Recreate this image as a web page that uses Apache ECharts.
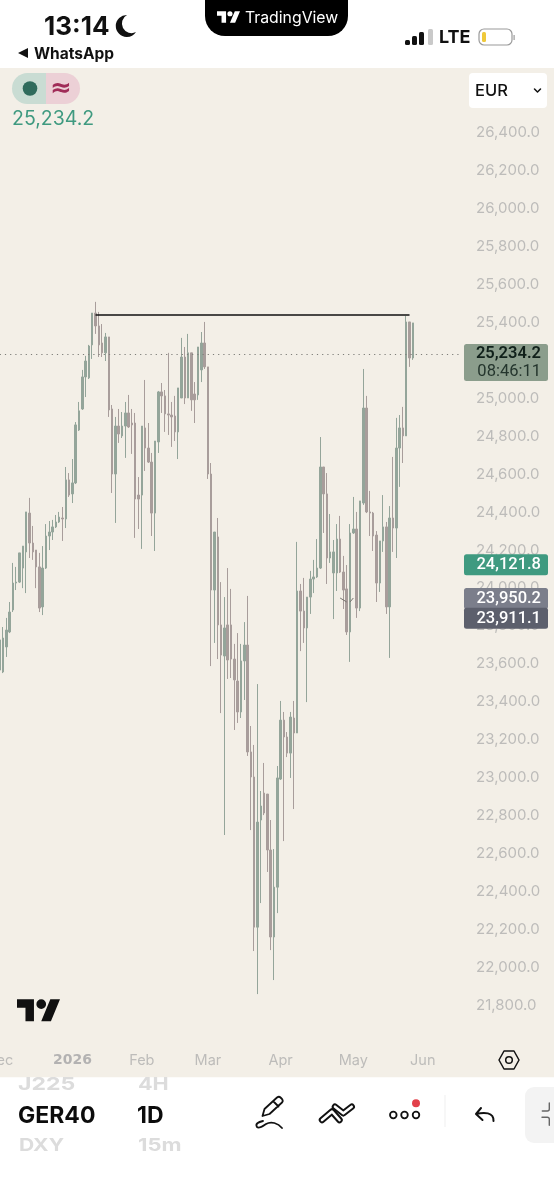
<!DOCTYPE html>
<html><head><meta charset="utf-8">
<style>html,body{margin:0;padding:0;background:#fff;overflow:hidden}#c{width:554px;height:1200px}</style>
<script src="https://cdn.jsdelivr.net/npm/echarts@6/dist/echarts.min.js"></script>
</head><body><div id="c"></div>
<script>
const opens=[23567,23557,23689,23768,23884,24026,24031,24105,24190,24395,24237,24200,24111,23900,24105,24274,24295,24322,24348,24369,24364,24570,24496,24554,24833,24944,25113,25108,25282,25450,25382,25292,25240,25324,24944,24601,24854,24802,24854,24923,24870,24870,24490,24490,24844,24738,24664,24395,24770,25034,25013,24918,24912,24907,24823,25002,25218,25002,25240,25023,25018,25150,25292,25166,24601,23989,24269,23805,23641,23805,23805,23625,23509,23346,23615,23699,23135,23003,22211,22776,22918,22913,22618,22159,22422,22992,23303,23214,23129,23314,23235,23984,23878,23789,23952,24047,24058,24105,24638,24496,24158,24079,24079,24258,24084,23995,23768,24290,24311,23894,24448,24949,24401,24395,24279,24026,24248,24322,23900,24369,24316,24738,24844,24802,25403,25213];
const closes=[23726,23736,23778,23873,24026,24031,24185,24221,24401,24237,24190,24111,23894,24105,24274,24295,24322,24348,24374,24364,24570,24490,24554,24860,24934,25113,25197,25276,25450,25382,25282,25240,25324,24939,24601,24854,24812,24854,24923,24849,24860,24469,24469,24854,24738,24664,24395,24775,25034,25013,24918,24912,24902,24823,25055,25218,25002,25240,24992,24992,25271,25292,25166,24601,23989,24295,23805,23646,23789,23620,23625,23515,23346,23615,23699,23135,23003,22211,22765,22850,22813,22618,22159,22422,22998,23303,23214,23129,23319,23235,23984,23878,23789,23952,24047,24058,24105,24638,24496,24158,24190,24190,24258,24084,23989,23768,24290,24311,23894,24459,24949,24401,24395,24274,24026,24248,24322,23900,24369,24316,24738,24844,24802,25403,25213,25398];
const lows=[23546,23551,23636,23762,23873,23989,24026,23999,23973,24158,24148,23999,23873,23857,24100,24200,24253,24316,24343,24248,24316,24480,24448,24548,24828,24939,25007,25102,25208,25340,25218,25218,25197,24902,24501,24343,24765,24791,24686,24844,24707,24264,24311,24206,24617,24659,24274,24195,24712,24923,24823,24807,24744,24775,24680,25002,24970,25002,24934,24870,24992,25086,25155,24575,23588,23710,23625,23340,22697,23520,23525,23251,23288,23314,23409,23114,22723,22085,21858,22338,22802,22502,22090,21932,22285,22987,22665,23108,22998,22834,23235,23667,23710,23398,23863,23973,24053,24100,24290,24021,24132,23836,23984,24079,23889,23752,23610,24285,23842,23878,24438,24395,24274,24195,23926,23979,24190,23863,23631,24190,24158,24533,24659,24802,25166,25203];
const highs=[23836,23794,23842,23926,24132,24111,24185,24221,24401,24475,24327,24200,24185,24221,24337,24353,24359,24385,24401,24427,24638,24606,24680,24875,24981,25150,25224,25282,25450,25509,25456,25392,25345,25324,24965,24902,24944,24928,24981,25018,24944,24923,24585,24854,25097,24870,24712,24775,25039,25081,25044,25240,24981,25013,25055,25319,25271,25340,25240,25086,25271,25350,25403,25166,24659,24295,24369,24031,23952,24105,23995,23705,23762,23705,23820,23958,23272,23172,23493,22929,23077,22913,22776,22623,23061,23404,23346,23240,23346,23404,24243,24021,24053,23952,24090,24148,24258,24796,24638,24606,24390,24253,24337,24380,24169,24121,24337,24480,24401,24459,25155,25013,24512,24401,24300,24248,24490,24348,24432,24691,24897,24912,24955,25435,25403,25398];
const monthLabels={0:'Dec',22:'2026',43:'Feb',63:'Mar',85:'Apr',107:'May',128:'Jun'};
const slotCount=141;
const lastPrice=25234.2;
const resistance=25440;
const priceTags=[
 {value:25234.2,text:'25,234.2',sub:'08:46:11',bg:'#8b9d8c',fg:'#10201a',sub2:'#24352d',h:37,dy:8.5},
 {value:24121.8,text:'24,121.8',bg:'#3f9a80',fg:'#ffffff',h:21,dy:0},
 {value:23950.2,text:'23,950.2',bg:'#7b7e8b',fg:'#ffffff',h:21,dy:1},
 {value:23911.1,text:'23,911.1',bg:'#5c5f6c',fg:'#ffffff',h:21,dy:13.5}
];
const UP='#94a59a', DOWN='#a89d9b';
const step=3.305;
const categories=Array.from({length:slotCount},(_,i)=>String(i));
const candles=opens.map((o,i)=>[o,closes[i],lows[i],highs[i]]);

const chart=echarts.init(document.getElementById('c'),null,{width:554,height:1200});
const FONT='Inter, "Open Sans", sans-serif';
const TV='M14 22H7V11H0V4h14v18zM28 22h-8l7.5-18h8L28 22zM24 8a4 4 0 1 1-8 0a4 4 0 1 1 8 0z';
const P=(d,x,y,w,h,fill)=>({type:'path',shape:{pathData:d,x,y,width:w,height:h,layout:'center'},style:{fill}});
const S=(d,st='#111',lw=2)=>({type:'path',shape:{pathData:d},style:{fill:'none',stroke:st,lineWidth:lw,lineCap:'round',lineJoin:'round'}});
const iconPaths=[
 P(TV,217,11,23,12,'#ffffff'),
 {type:'path',shape:{pathData:'M127 15a11 11 0 1 0 9 17a9.5 9.5 0 0 1-9-17z'},style:{fill:'#111'}},
 S('M534.5 89l3 3l3 -3','#111',1.5),
 P(TV,17,999,43,22.5,'#111'),
 S('M499 1060l5-9h10l5 9l-5 9h-10z','#111',1.5),
 S('M262.5 1116l2-7l12.5-11.5q2-1.5 3.5 0l1.5 1.5q1.5 2 0 3.5l-12.5 11.5zM273.5 1101.5l5 5','#111',1.8),
 S('M263 1121c-5 1-8 3-6 6c2 2 6-1 9-3c5-3 12-1 16 4','#111',1.8),
 S('M322 1120l10-8.5l7.5 8.5','#111',6.5),S('M322 1120l10-8.5l7.5 8.5','#ffffff',2.6),
 S('M335 1106.7l8.3 6.6l8.4-6.6','#111',6.5),S('M335 1106.7l8.3 6.6l8.4-6.6','#ffffff',2.6),
 S('M481 1108l-5 6l6.5 6M476 1114c8-2 18-2 17.5 7','#111',2),
 S('M549.3 1103v6q0 2-2 2h-5M542 1117.3h5.3q2 0 2 2v6','#666',1.4)
];
chart.setOption({
 animation:false,
 backgroundColor:'transparent',
 grid:{left:-1.95,top:95,width:step*slotCount,height:948,containLabel:false,outerBoundsMode:'none'},
 xAxis:{type:'category',data:categories,boundaryGap:true,
  axisLine:{show:false},axisTick:{show:false},splitLine:{show:false},
  axisLabel:{margin:10,hideOverlap:false,showMinLabel:true,color:'#bdbcba',fontSize:14.5,fontFamily:FONT,
   interval:(i)=>monthLabels[i]!==undefined,
   formatter:(v)=>monthLabels[v]==='2026'?'{b|2026}':monthLabels[v],
   rich:{b:{fontWeight:700,fontSize:14,color:'#b3b2b2',fontFamily:'"DejaVu Sans"'}}}},
 yAxis:{type:'value',position:'right',min:21600,max:26600,interval:200,
  axisLine:{show:false},axisTick:{show:false},splitLine:{show:false},
  axisLabel:{margin:12,align:'left',color:'#bdbcba',fontSize:15,fontFamily:FONT,
   formatter:(v)=>(v<21800||v>26400)?'':v.toLocaleString('en-US',{minimumFractionDigits:1,maximumFractionDigits:1})}},
 series:[{type:'candlestick',data:candles,barWidth:2,clip:true,
  itemStyle:{color:UP,color0:DOWN,borderColor:UP,borderColor0:DOWN,borderWidth:1},
  markLine:{silent:true,symbol:'none',animation:false,label:{show:false},
   data:[
    [{coord:[29,resistance],lineStyle:{color:'#111',width:1.6,type:'solid'}},{coord:[124,resistance]}],
    [{coord:[0,lastPrice],lineStyle:{color:'#7d7d78',width:1.2,type:[1.2,4]}},{coord:[140,lastPrice]}],
    [{coord:[103,23947],lineStyle:{color:'#77736f',width:1,type:'solid'}},{coord:[105,23926]}],
    [{coord:[106,23926],lineStyle:{color:'#77736f',width:1,type:'solid'}},{coord:[107,23947]}]
   ]}
 },{type:'custom',coordinateSystem:'none',silent:true,z:300,clip:false,data:[[0]],
   renderItem:()=>({type:'group',children:iconPaths})}]
});

const T=(x,y,text,font,fill,align='left',z=110)=>({type:'text',z,style:{x,y,text,font,fill,textAlign:align,textVerticalAlign:'middle'}});
const W=(x,y,text,sx)=>({type:'text',z:99,x,y,scaleX:sx,style:{x:0,y:0,text,font:fnt(700,18),fill:'#dcdcdc',textAlign:'left',textVerticalAlign:'middle'}});
const R=(x,y,w,h,fill,r=0,z=100)=>({type:'rect',z,shape:{x,y,width:w,height:h,r},style:{fill}});
const fnt=(w,s,fam)=>`${w} ${s}px ${fam||'Inter, "Open Sans", sans-serif'}`;
const C=(cx,cy,r,lw=1.8)=>({type:'circle',z:110,shape:{cx,cy,r},style:{fill:'none',stroke:'#111',lineWidth:lw}});

const els=[
 R(0,68,554,1009.5,'#f3efe7',0,-10),
 R(0,0,554,68,'#ffffff'),
 R(205,-20,143,56,'#000000',20),
 T(245,18,'TradingView',fnt(400,15.8),'#ffffff'),
 T(44,27,'13:14',fnt(700,26),'#111'),
 {type:'polygon',z:110,shape:{points:[[18,53],[28,48],[28,58]]},style:{fill:'#111'}},
 T(34,54,'WhatsApp',fnt(700,15.5),'#111'),
 R(405,40,5,5,'#111',1.5),R(412,36,5,9,'#111',1.5),R(419,32,5,13,'#111',1.5),R(428,29,5,16,'#c9c9c9',1.5),
 T(439,38,'LTE',fnt(700,18),'#111'),
 R(479,29,33,16,'#ffffff',5),
 {type:'rect',z:110,shape:{x:479,y:29,width:33,height:16,r:5},style:{fill:'none',stroke:'#9a9a9a',lineWidth:1.2}},
 R(482,32,4,10,'#efc93b',1.5,111),
 R(513.5,35,1.2,5,'#9a9a9a',0,110),
 {type:'rect',z:100,shape:{x:12,y:73,width:34,height:31,r:[15.5,0,0,15.5]},style:{fill:'#c9dcd3'}},
 {type:'rect',z:100,shape:{x:46,y:73,width:34,height:31,r:[0,15.5,15.5,0]},style:{fill:'#ecd0d6'}},
 {type:'circle',z:110,shape:{cx:30,cy:88.5,r:7.3},style:{fill:'#2f6b5c'}},
 T(61,89,'≈',fnt(700,26,'"DejaVu Sans"'),'#a02c58','center'),
 T(12,119,'25,234.2',fnt(400,19.5),'#3f9a80'),
 R(469,73,78,35,'#ffffff',4),
 T(475,91,'EUR',fnt(500,16.5),'#111'),
 C(509,1060,3.3,1.5),
 R(0,1077.5,554,122.5,'#ffffff',0,90),
 W(18,1085,'J225',1.28),
 W(138,1085,'4H',1.2),
 W(19,1146,'DXY',1.17),
 W(138,1146,'15m',1.22),
 T(18,1116,'GER40',fnt(700,23),'#0c0c0c'),
 T(137,1116,'1D',fnt(700,23),'#0c0c0c'),
 C(393.3,1115,3.3),C(404.5,1115,3.3),C(416,1115,3.3),
 {type:'circle',z:111,shape:{cx:416,cy:1103.3,r:4},style:{fill:'#e2404a'}},
 R(444.5,1095,1,32,'#f0f0f0',0,110),
 R(525,1087,40,56,'#f3f3f3',9,100)
];
priceTags.forEach(t=>{
 const y=chart.convertToPixel({yAxisIndex:0},t.value)+t.dy;
 els.push(R(464,y-t.h/2,84,t.h,t.bg,2.5,t===priceTags[3]?102:101));
 const tf=fnt(500,16.5,'Roboto, sans-serif');
 if(t.sub){
  els.push(T(541,y-9,t.text,fnt(600,16.5,'Roboto, sans-serif'),t.fg,'right',112));
  els.push(T(541,y+9,t.sub,fnt(400,16.5,'Roboto, sans-serif'),t.sub2,'right',112));
 }else{
  els.push(T(541,y+0.5,t.text,tf,t.fg,'right',112));
 }
});
chart.setOption({graphic:{elements:els}});
</script></body></html>
